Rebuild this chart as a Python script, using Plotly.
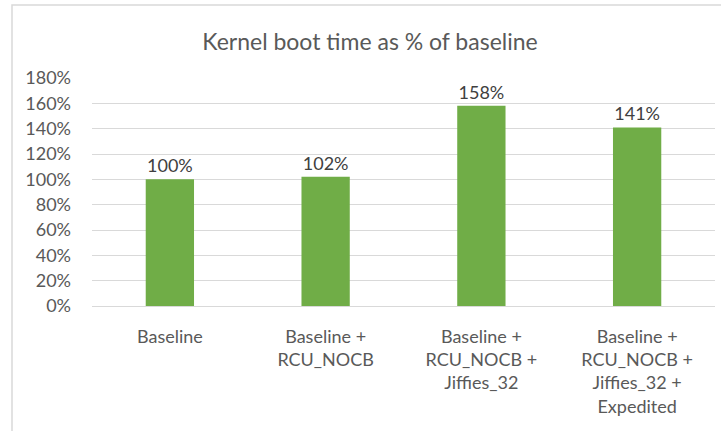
import plotly.graph_objects as go

categories = ["Baseline", "Baseline +<br>RCU_NOCB", "Baseline +<br>RCU_NOCB +<br>Jiffies_32",
              "Baseline +<br>RCU_NOCB +<br>Jiffies_32 +<br>Expedited"]
values = [100, 102, 158, 141]
labels = ["100%", "102%", "158%", "141%"]
tick_vals = [0, 20, 40, 60, 80, 100, 120, 140, 160, 180]
tick_text = [f"{v}%" for v in tick_vals]

W, H = 721, 431
L, R, T, B = 92, 6, 78, 125
pw, ph = W - L - R, H - T - B
FONT = "Lato, Open Sans, sans-serif"

fig = go.Figure(go.Bar(
    x=categories, y=values, width=0.31,
    marker=dict(color="#70AD47", line=dict(width=0)),
    text=labels, textposition="outside",
    textfont=dict(family=FONT, size=18, color="#404040"),
    cliponaxis=False,
))

fig.update_layout(
    width=W, height=H,
    margin=dict(l=L, r=R, t=T, b=B),
    paper_bgcolor="white", plot_bgcolor="white",
    title=dict(text="Kernel boot time as % of baseline", x=(370 - L) / pw, xref="paper",
               xanchor="center", y=1 - 42 / H, yanchor="middle",
               font=dict(family=FONT, size=23, color="#595959")),
    showlegend=False,
)
fig.update_yaxes(range=[0, 180], tickvals=tick_vals, ticktext=tick_text,
                 showgrid=True, gridcolor="#D9D9D9", gridwidth=1, zeroline=False,
                 showline=False, ticks="", ticklabelstandoff=20,
                 tickfont=dict(family=FONT, size=18, color="#595959"))
fig.update_xaxes(showline=True, linecolor="#D9D9D9", linewidth=1, ticks="",
                 ticklabelstandoff=14,
                 tickfont=dict(family=FONT, size=18, color="#595959"))

fig.add_shape(type="rect", xref="paper", yref="paper",
              x0=(12 - L) / pw, x1=(W + 20 - L) / pw,
              y0=-(H + 20 - T - ph) / ph, y1=1 + (T - 5) / ph,
              line=dict(color="#D9D9D9", width=1.5), fillcolor="rgba(0,0,0,0)", layer="below")

fig.write_html("out.html")
